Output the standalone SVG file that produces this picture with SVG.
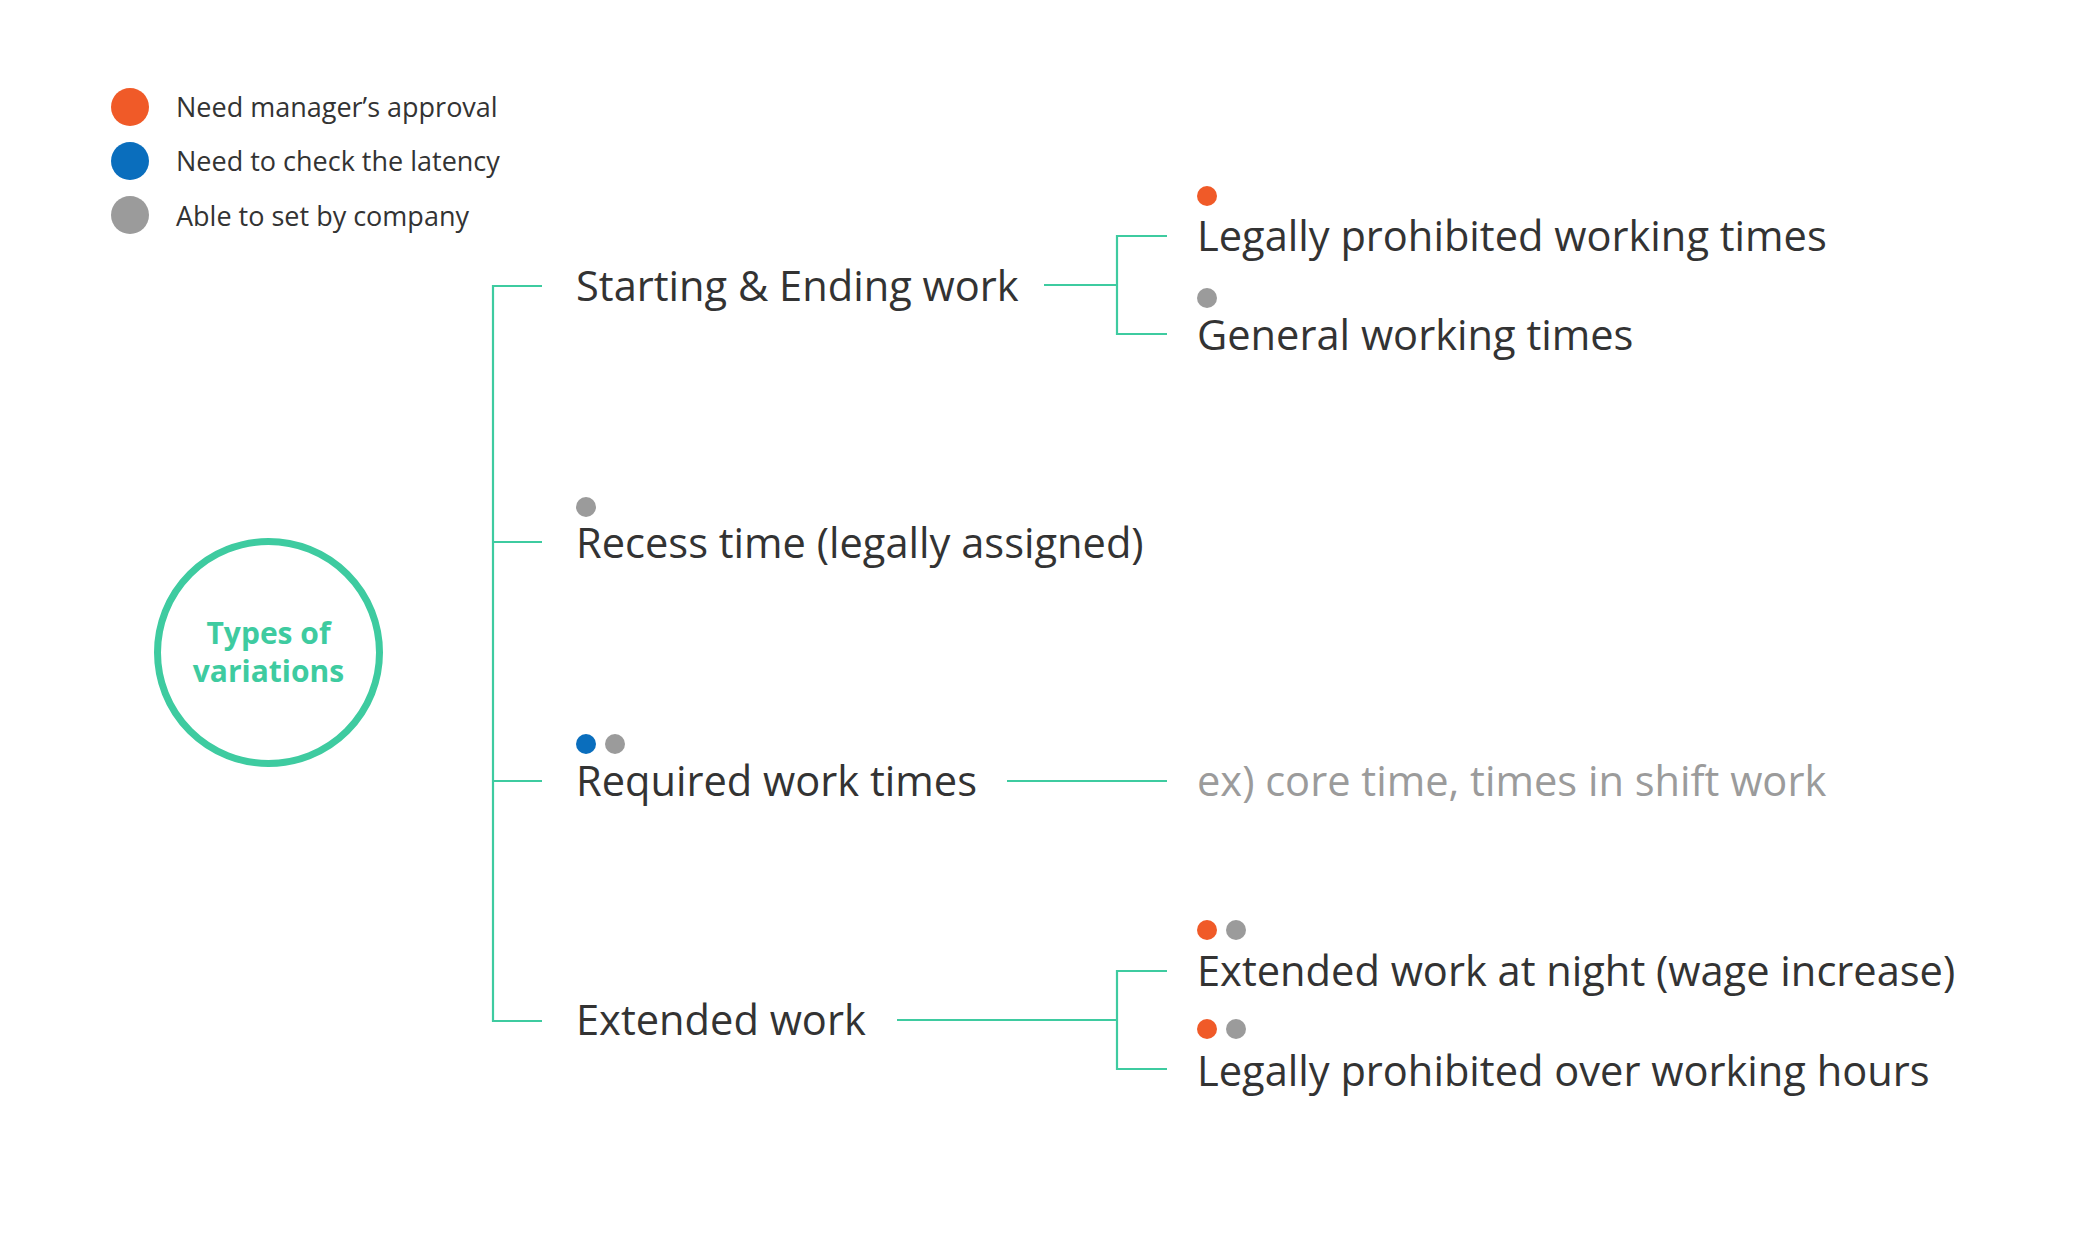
<svg xmlns="http://www.w3.org/2000/svg" width="2084" height="1251" viewBox="0 0 2084 1251">
<style>
.leg{font-family:"Open Sans","Liberation Sans",sans-serif;font-size:27px;fill:#333333}
.lbl{font-family:"Open Sans","Liberation Sans",sans-serif;font-size:41.6px;fill:#333333}
.ex{fill:#9b9b9b}
.ctr{font-family:"Open Sans","Liberation Sans",sans-serif;font-size:30px;font-weight:bold;fill:#3ecba0}
.ln{stroke:#3ecba0;stroke-width:2.2;fill:none}
.o{fill:#f05a28}
.b{fill:#0a6ebd}
.g{fill:#9b9b9b}
</style>
<rect width="2084" height="1251" fill="#ffffff"/>
<g id="legend">
<circle class="o" cx="130" cy="107" r="19"/>
<circle class="b" cx="130" cy="161" r="19"/>
<circle class="g" cx="130" cy="215" r="19"/>
<text class="leg" x="176" y="117">Need manager’s approval</text>
<text class="leg" x="176" y="171">Need to check the latency</text>
<text class="leg" x="176" y="226">Able to set by company</text>
</g>
<g id="connectors">
<path class="ln" d="M542,286 H493 V1021 H542 M493,542 H542 M493,781 H542"/>
<path class="ln" d="M1044,285 H1117 M1167,236 H1117 V334 H1167"/>
<path class="ln" d="M1007,781 H1167"/>
<path class="ln" d="M897,1020 H1117 M1167,971 H1117 V1069 H1167"/>
</g>
<g id="center">
<circle cx="268.5" cy="652.5" r="111" fill="none" stroke="#3ecba0" stroke-width="7"/>
<text class="ctr" x="268.5" y="644" text-anchor="middle">Types of</text>
<text class="ctr" x="268.5" y="682" text-anchor="middle">variations</text>
</g>
<g id="starting">
<text class="lbl" x="576" y="301">Starting &amp; Ending work</text>
</g>
<g id="recess">
<circle class="g" cx="586" cy="507" r="10"/>
<text class="lbl" x="576" y="558">Recess time (legally assigned)</text>
</g>
<g id="required">
<circle class="b" cx="586" cy="744" r="10"/>
<circle class="g" cx="615" cy="744" r="10"/>
<text class="lbl" x="576" y="796">Required work times</text>
</g>
<g id="extended">
<text class="lbl" x="576" y="1035">Extended work</text>
</g>
<g id="prohibited-times">
<circle class="o" cx="1207" cy="196" r="10"/>
<text class="lbl" x="1197" y="251">Legally prohibited working times</text>
</g>
<g id="general-times">
<circle class="g" cx="1207" cy="298" r="10"/>
<text class="lbl" x="1197" y="350">General working times</text>
</g>
<g id="example">
<text class="lbl ex" x="1197" y="796">ex) core time, times in shift work</text>
</g>
<g id="night-work">
<circle class="o" cx="1207" cy="930" r="10"/>
<circle class="g" cx="1236" cy="930" r="10"/>
<text class="lbl" x="1197" y="986">Extended work at night (wage increase)</text>
</g>
<g id="over-hours">
<circle class="o" cx="1207" cy="1029" r="10"/>
<circle class="g" cx="1236" cy="1029" r="10"/>
<text class="lbl" x="1197" y="1086">Legally prohibited over working hours</text>
</g>
</svg>
